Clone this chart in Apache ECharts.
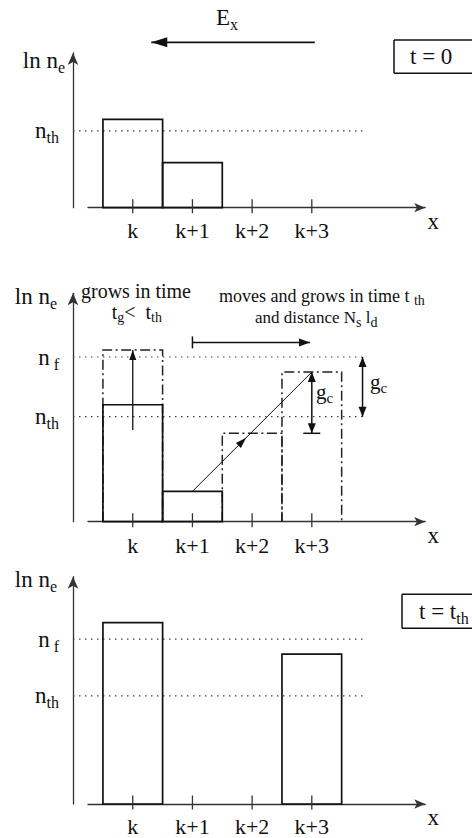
<!DOCTYPE html>
<html>
<head>
<meta charset="utf-8">
<script src="https://cdn.jsdelivr.net/npm/echarts@6/dist/echarts.min.js"></script>
<style>
  html, body { margin: 0; padding: 0; background: #fff; overflow: hidden; }
  #chart { width: 472px; height: 838px; }
</style>
</head>
<body>
<div id="chart"></div>
<script>
// ---- data -------------------------------------------------------------
// cells along x
const cells = ['k', 'k+1', 'k+2', 'k+3'];
const cellPos = [0, 1, 2, 3];

// t = 0 : electron density per cell (ln n_e units)
const initDensity = [5.71, 2.91, 0, 0];
const initThreshold = 4.96;

// intermediate stage
const midDensity = [5.12, 1.33, 0, 0];
const midGrown = [7.52, 0, 3.87, 6.55];      // dash-dot outlines after growth / motion
const midThreshold = 4.60;
const midFinal = 7.21;
const growthStart = 4.01;                    // foot of the growth arrow in cell k
const moveLevel = 7.85;                      // height of the "moves" arrow
const moveSpan = [1, 2.97];
const gcMarkerX = 3.85;                      // outer g_c marker

// t = t_th
const lateDensity = [7.98, 0, 0, 6.59];
const lateThreshold = 4.76;
const lateFinal = 7.25;

// field direction (panel 1 units)
const fieldFrom = [3.05, 10.69];
const fieldTo = [0.31, 10.69];

// ---- layout & style ---------------------------------------------------
const SERIF = 'Liberation Serif';
const INK = '#111';
const AXIS = '#333';
const X_MIN = -0.75, X_MAX = 4.9, Y_MAX = 10;
const AXIS_OFFSET = 15;
const GUIDE_END = 3.92;

const grids = [
  { left: 88, width: 337.2, top: 53, height: 154.7, outerBoundsMode: 'none' },
  { left: 88, width: 337.2, top: 293.3, height: 228.4, outerBoundsMode: 'none' },
  { left: 88, width: 337.2, top: 576.7, height: 227.3, outerBoundsMode: 'none' }
];

function richSet(main, sub, drop) {
  return {
    m: { fontFamily: SERIF, fontSize: main, color: INK, fill: INK },
    s: { fontFamily: SERIF, fontSize: sub, color: INK, fill: INK, padding: [drop * 2, 0, 0, 0] }
  };
}
const rich23 = richSet(23, 16, 7);
const rich21 = richSet(21, 15, 6);
const rich20 = richSet(20, 14, 5.5);
const rich18 = richSet(18, 14, 5);
const rich17 = richSet(17, 14, 5);

const levelText = { th: '{m|n}{s|th}', f: '{m|n}{s|\u00a0f}' };

function xAxisFor(p, margin) {
  return {
    type: 'value', gridIndex: p, min: X_MIN, max: X_MAX,
    splitLine: { show: false },
    axisTick: { show: false },
    axisLine: {
      show: true, onZero: false, symbol: ['none', 'arrow'], symbolSize: [7, 11],
      lineStyle: { color: AXIS, width: 1.3 }
    },
    axisLabel: {
      customValues: cellPos,
      formatter: v => cells[cellPos.indexOf(v)] || '',
      margin: margin, fontFamily: SERIF, fontSize: 22, color: INK
    },
    name: 'x', nameLocation: 'end', nameGap: 8,
    nameTextStyle: { fontFamily: SERIF, fontSize: 23, color: INK, align: 'center', verticalAlign: 'top', padding: [2, 0, 0, 0] }
  };
}

function yAxisFor(p, levels, nameGap, namePad) {
  return {
    type: 'value', gridIndex: p, min: 0, max: Y_MAX, offset: AXIS_OFFSET,
    splitLine: { show: false },
    axisTick: { show: false },
    axisLine: {
      show: true, onZero: false, symbol: ['none', 'arrow'], symbolSize: [8, 12],
      lineStyle: { color: AXIS, width: 1.3 }
    },
    axisLabel: {
      customValues: levels.map(l => l.v),
      formatter: v => { const hit = levels.find(l => Math.abs(l.v - v) < 1e-9); return hit ? hit.t : ''; },
      margin: 14, rich: rich23
    },
    name: '{m|ln n}{s|e}', nameLocation: 'end', nameGap: nameGap,
    nameTextStyle: { align: 'right', verticalAlign: 'middle', padding: [0, namePad, 0, 0], rich: rich23 }
  };
}

// ---- series builders --------------------------------------------------
function guideSeries(p, levels) {
  return {
    type: 'custom', xAxisIndex: p, yAxisIndex: p, silent: true, z: 1,
    data: levels.map(v => [X_MIN, v]),
    renderItem(params, api) {
      const a = api.coord([X_MIN, api.value(1)]);
      const b = api.coord([GUIDE_END, api.value(1)]);
      return {
        type: 'line',
        shape: { x1: a[0] - AXIS_OFFSET, y1: a[1], x2: b[0], y2: b[1] },
        style: { stroke: '#444', lineWidth: 1.2, lineDash: [1.5, 4.5] }
      };
    }
  };
}

function cellSeries(p, values, dashed) {
  return {
    type: 'custom', xAxisIndex: p, yAxisIndex: p, silent: true, z: dashed ? 2 : 3,
    data: values.map((v, i) => [cellPos[i], v]).filter(d => d[1] > 0),
    renderItem(params, api) {
      const x = api.value(0), v = api.value(1);
      const a = api.coord([x - 0.5, 0]);
      const b = api.coord([x + 0.5, v]);
      if (dashed) {
        return {
          type: 'polyline',
          shape: { points: [[a[0], a[1]], [a[0], b[1]], [b[0], b[1]], [b[0], a[1]]] },
          style: { stroke: '#222', lineWidth: 1.5, fill: 'none', lineDash: [10, 3.5, 2, 3.5] }
        };
      }
      return {
        type: 'rect',
        shape: { x: a[0], y: b[1], width: b[0] - a[0], height: a[1] - b[1] },
        style: { stroke: INK, lineWidth: 1.7, fill: 'none' }
      };
    }
  };
}

function tickSeries(p) {
  return {
    type: 'custom', xAxisIndex: p, yAxisIndex: p, silent: true, z: 4,
    data: cellPos.map(v => [v, 0]),
    renderItem(params, api) {
      const c = api.coord([api.value(0), 0]);
      return {
        type: 'line',
        shape: { x1: c[0], y1: c[1] - 8.5, x2: c[0], y2: c[1] + 5.5 },
        style: { stroke: AXIS, lineWidth: 1.3 }
      };
    }
  };
}

function headPoints(tip, dir, L, W) {
  const bx = tip[0] - dir[0] * L, by = tip[1] - dir[1] * L;
  const nx = -dir[1], ny = dir[0];
  return [[tip[0], tip[1]], [bx + nx * W / 2, by + ny * W / 2], [bx - nx * W / 2, by - ny * W / 2]];
}

function arrowSeries(p, specs) {
  return {
    type: 'custom', xAxisIndex: p, yAxisIndex: p, silent: true, z: 5,
    data: specs.map(s => [s.from[0], s.from[1], s.to[0], s.to[1]]),
    renderItem(params, api) {
      const s = specs[params.dataIndex];
      const a = api.coord([api.value(0), api.value(1)]);
      const b = api.coord([api.value(2), api.value(3)]);
      const len = Math.hypot(b[0] - a[0], b[1] - a[1]);
      const d = [(b[0] - a[0]) / len, (b[1] - a[1]) / len];
      const stroke = s.color || INK;
      const kids = [{
        type: 'line', shape: { x1: a[0], y1: a[1], x2: b[0], y2: b[1] },
        style: { stroke: stroke, lineWidth: s.width }
      }];
      const L = s.head[0], W = s.head[1];
      if (s.end) kids.push({ type: 'polygon', shape: { points: headPoints(b, d, L, W) }, style: { fill: stroke } });
      if (s.start) kids.push({ type: 'polygon', shape: { points: headPoints(a, [-d[0], -d[1]], L, W) }, style: { fill: stroke } });
      if (s.mid != null) {
        const t = [a[0] + (b[0] - a[0]) * s.mid, a[1] + (b[1] - a[1]) * s.mid];
        kids.push({ type: 'polygon', shape: { points: headPoints(t, d, L, W) }, style: { fill: stroke } });
      }
      const bar = (pt, half) => ({
        type: 'line',
        shape: { x1: pt[0] - d[1] * half, y1: pt[1] + d[0] * half, x2: pt[0] + d[1] * half, y2: pt[1] - d[0] * half },
        style: { stroke: stroke, lineWidth: s.width }
      });
      if (s.barStart) kids.push(bar(a, s.barStart));
      if (s.barEnd) kids.push(bar(b, s.barEnd));
      return { type: 'group', children: kids };
    }
  };
}

// ---- annotations (pixel layout) ----------------------------------------
function note(x, y, text, rich) {
  return { type: 'text', x: x, y: y, silent: true, style: { text: text, rich: rich, fill: INK, align: 'left', verticalAlign: 'middle' } };
}
// state label frame: open on the right, running past the edge
function frameSide(x1, y1, x2, y2) {
  return { type: 'line', silent: true, shape: { x1: x1, y1: y1, x2: x2, y2: y2 }, style: { stroke: INK, lineWidth: 1.5 } };
}
function boxFrame(x, y, h) {
  return [frameSide(x, y, 500, y), frameSide(x, y, x, y + h), frameSide(x, y + h, 500, y + h)];
}

const option = {
  animation: false,
  backgroundColor: '#fff',
  grid: grids,
  xAxis: [xAxisFor(0, 12), xAxisFor(1, 13), xAxisFor(2, 11)],
  yAxis: [
    yAxisFor(0, [{ v: initThreshold, t: levelText.th }], -7, 8),
    yAxisFor(1, [{ v: midThreshold, t: levelText.th }, { v: midFinal, t: levelText.f }], -3, 16),
    yAxisFor(2, [{ v: lateThreshold, t: levelText.th }, { v: lateFinal, t: levelText.f }], -3, 16)
  ],
  series: [
    // t = 0
    guideSeries(0, [initThreshold]),
    cellSeries(0, initDensity, false),
    tickSeries(0),
    arrowSeries(0, [{ from: fieldFrom, to: fieldTo, width: 1.8, head: [16, 10], end: true }]),
    // intermediate
    guideSeries(1, [midThreshold, midFinal]),
    cellSeries(1, midGrown, true),
    cellSeries(1, midDensity, false),
    tickSeries(1),
    arrowSeries(1, [
      { from: [cellPos[0], growthStart], to: [cellPos[0], midGrown[0]], width: 1.3, head: [10, 7], end: true },
      { from: [cellPos[1], midDensity[1]], to: [cellPos[3], midGrown[3]], width: 1, head: [11, 7], mid: 0.45 },
      { from: [cellPos[3], midGrown[3]], to: [cellPos[3], midGrown[2]], width: 1.5, head: [10, 8], end: true, start: true, barEnd: 8.5 },
      { from: [gcMarkerX, midFinal], to: [gcMarkerX, midThreshold], width: 1.5, head: [10, 8], end: true, start: true },
      { from: [moveSpan[0], moveLevel], to: [moveSpan[1], moveLevel], width: 1.5, head: [11, 8], end: true, barStart: 6 }
    ]),
    // t = t_th
    guideSeries(2, [lateThreshold, lateFinal]),
    cellSeries(2, lateDensity, false),
    tickSeries(2)
  ],
  graphic: [
    note(216, 17.5, '{m|E}{s|x}', rich23),
    ...boxFrame(394, 40, 33.3),
    note(410, 56.7, '{m|t = 0}', rich23),
    note(81, 290.5, '{m|grows in time}', rich20),
    note(111.7, 312, '{m|t}{s|g}{m|<\u00a0\u00a0t}{s|th}', rich20),
    note(219, 295.6, '{m|moves and grows in time t\u00a0}{s|th}', rich18),
    note(255, 317.2, '{m|and distance N}{s|s}{m|\u00a0l}{s|d}', rich17),
    note(316, 392, '{m|g}{s|c}', rich21),
    note(370, 381.5, '{m|g}{s|c}', rich21),
    ...boxFrame(402, 594.3, 34),
    note(419, 611.3, '{m|t = t}{s|th}', rich23)
  ]
};

const chart = echarts.init(document.getElementById('chart'), null, { renderer: 'svg' });
chart.setOption(option);
</script>
</body>
</html>
